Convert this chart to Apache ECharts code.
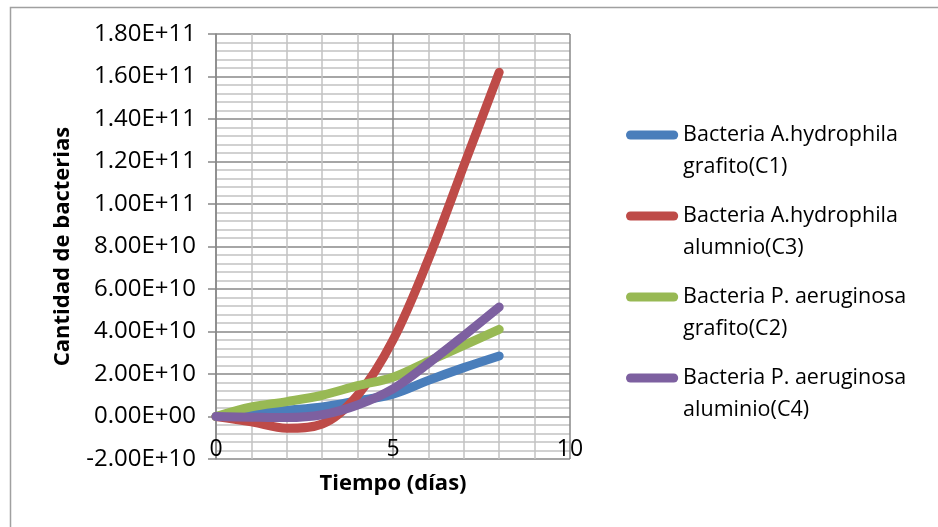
<!DOCTYPE html>
<html>
<head>
<meta charset="utf-8">
<script src="https://cdn.jsdelivr.net/npm/echarts@6/dist/echarts.min.js"></script>
<style>html,body{margin:0;padding:0;background:#fff}#c{width:938px;height:527px}</style>
</head>
<body>
<div id="c"></div>
<script>
const days = [0, 1, 2, 3, 4, 5, 6, 7, 8];
const seriesNames = [
  'Bacteria A.hydrophila grafito(C1)',
  'Bacteria A.hydrophila alumnio(C3)',
  'Bacteria P. aeruginosa grafito(C2)',
  'Bacteria P. aeruginosa aluminio(C4)'
];
const legendLabels = [
  'Bacteria A.hydrophila\ngrafito(C1)',
  'Bacteria A.hydrophila\nalumnio(C3)',
  'Bacteria P. aeruginosa\ngrafito(C2)',
  'Bacteria P. aeruginosa\naluminio(C4)'
];
const c1 = [0, 1.5e9, 3.0e9, 4.5e9, 7.4e9, 1.05e10, 1.7e10, 2.3e10, 2.85e10];
const c3 = [0, -2.5e9, -5.5e9, -3.5e9, 1.0e10, 3.6e10, 7.4e10, 1.18e11, 1.62e11];
const c2 = [0, 4.5e9, 7.0e9, 1.0e10, 1.45e10, 1.85e10, 2.6e10, 3.35e10, 4.1e10];
const c4 = [0, -0.3e9, -0.5e9, 0.8e9, 5.4e9, 1.3e10, 2.5e10, 3.8e10, 5.15e10];
const colors = ['#4a7ebb', '#be4b48', '#98b954', '#7d60a0'];
const allData = [c1, c3, c2, c4];

const font = 'Open Sans';
function fmt(v) {
  return v.toExponential(2).replace(/e([+-])(\d)$/, 'e$10$2').toUpperCase();
}
const labelMap = {};
seriesNames.forEach((n, i) => labelMap[n] = ' \n' + legendLabels[i]);

const chart = echarts.init(document.getElementById('c'));
chart.setOption({
  animation: false,
  backgroundColor: '#fff',
  graphic: [{
    type: 'rect', left: 8, top: 5, z: -1,
    shape: { width: 960, height: 560 },
    style: { fill: 'none', stroke: '#a0a0a0', lineWidth: 1.5 }
  }],
  grid: { left: 216, right: 368, top: 34, bottom: 68 },
  xAxis: {
    type: 'value', min: 0, max: 10, interval: 5,
    name: 'Tiempo (días)', nameLocation: 'middle', nameGap: 14,
    nameTextStyle: { fontFamily: font, fontWeight: 'bold', fontSize: 22, color: '#000', verticalAlign: 'top' },
    axisLine: { show: false },
    axisTick: { show: false },
    axisLabel: { fontFamily: font, fontSize: 23, color: '#000', margin: -21, verticalAlign: 'top' },
    splitLine: { show: true, lineStyle: { color: '#888', width: 1.5 } },
    minorTick: { show: false, splitNumber: 5 },
    minorSplitLine: { show: true, lineStyle: { color: '#c2c2c2', width: 1.5 } }
  },
  yAxis: {
    type: 'value', min: -2e10, max: 1.8e11, interval: 2e10,
    name: 'Cantidad de bacterias', nameLocation: 'middle', nameGap: 142, nameRotate: 90,
    nameTextStyle: { fontFamily: font, fontWeight: 'bold', fontSize: 22, color: '#000' },
    axisLine: { show: true, lineStyle: { color: '#888', width: 1.5 } },
    axisTick: { show: true, inside: false, length: 8, lineStyle: { color: '#888', width: 1.5 } },
    axisLabel: { fontFamily: font, fontSize: 24, color: '#000', margin: 20, formatter: fmt },
    splitLine: { show: true, lineStyle: { color: '#888', width: 1.5 } },
    minorTick: { show: false, splitNumber: 5 },
    minorSplitLine: { show: true, lineStyle: { color: '#c2c2c2', width: 1.5 } }
  },
  legend: {
    orient: 'vertical', left: 621, top: 82, itemGap: -15,
    itemWidth: 58, itemHeight: 9,
    icon: 'path://M5,0 L53,0 A5,5 0 0 1 53,10 L5,10 A5,5 0 0 1 5,0 Z',
    formatter: n => labelMap[n],
    textStyle: { fontFamily: font, fontSize: 21.5, color: '#000', lineHeight: 32, padding: [0, 0, 0, -3] },
    data: seriesNames
  },
  series: seriesNames.map((n, i) => ({
    name: n, type: 'line', smooth: 0.35, showSymbol: false, symbol: 'none',
    color: colors[i],
    lineStyle: { width: 9, color: colors[i], cap: 'round', join: 'round' },
    data: days.map((d, j) => [d, allData[i][j]])
  }))
});
</script>
</body>
</html>
